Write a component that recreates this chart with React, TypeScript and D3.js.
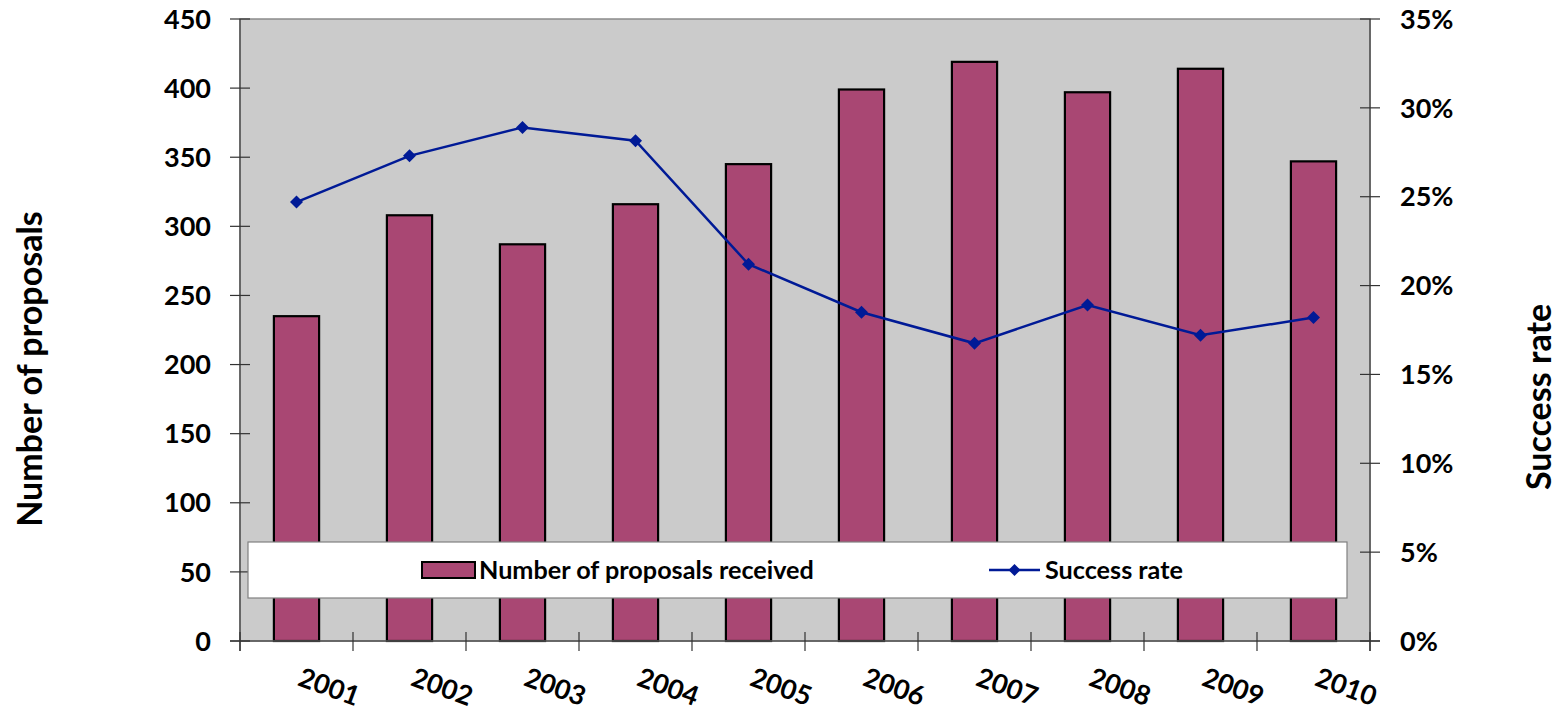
import React from "react";
import * as d3 from "d3";

const years = ["2001", "2002", "2003", "2004", "2005", "2006", "2007", "2008", "2009", "2010"];
const proposals = [235, 308, 287, 316, 345, 399, 419, 397, 414, 347];
const successRate = [24.7, 27.3, 28.9, 28.15, 21.2, 18.5, 16.75, 18.9, 17.2, 18.2];
const leftTicks = [0, 50, 100, 150, 200, 250, 300, 350, 400, 450];
const rightTicks = [0, 5, 10, 15, 20, 25, 30, 35];

const W = 1557;
const H = 714;
const plot = { left: 240, right: 1370, top: 19, bottom: 641 };
const FONT = "Lato, 'Open Sans', sans-serif";
const BAR = "#A94773";
const LINE = "#001A96";

export default function App() {
  const x = d3.scaleBand<string>().domain(years).range([plot.left, plot.right]).paddingInner(0).paddingOuter(0);
  const yL = d3.scaleLinear().domain([0, 450]).range([plot.bottom, plot.top]);
  const yR = d3.scaleLinear().domain([0, 35]).range([plot.bottom, plot.top]);
  const bw = x.bandwidth() * 0.4;
  const cx = (y: string) => (x(y) as number) + x.bandwidth() / 2;

  const linePath = d3
    .line<number>()
    .x((_, i) => cx(years[i]))
    .y((d) => yR(d))(successRate) as string;

  const diamond = (px: number, py: number, r = 6.5) =>
    `M${px},${py - r}L${px + r},${py}L${px},${py + r}L${px - r},${py}Z`;

  const boundaries = d3.range(years.length + 1).map((i) => plot.left + i * x.bandwidth());

  return (
    <svg
      width={W}
      height={H}
      style={{ position: "absolute", left: 0, top: 0, background: "#fff" }}
      fontFamily={FONT}
      fontWeight="bold"
    >
      {/* plot area */}
      <rect
        x={plot.left}
        y={plot.top}
        width={plot.right - plot.left}
        height={plot.bottom - plot.top}
        fill="#CBCBCB"
        stroke="#8C8C8C"
        strokeWidth={1.5}
      />

      {/* bars */}
      {proposals.map((v, i) => (
        <rect
          key={years[i]}
          x={cx(years[i]) - bw / 2}
          y={yL(v)}
          width={bw}
          height={plot.bottom - yL(v)}
          fill={BAR}
          stroke="#000"
          strokeWidth={2.2}
        />
      ))}

      {/* success rate line */}
      <path d={linePath} fill="none" stroke={LINE} strokeWidth={2.5} />
      {successRate.map((v, i) => (
        <path key={years[i]} d={diamond(cx(years[i]), yR(v))} fill={LINE} />
      ))}

      {/* axes */}
      <line x1={plot.left} x2={plot.left} y1={plot.top} y2={plot.bottom + 10} stroke="#555" strokeWidth={1.5} />
      <line x1={plot.right} x2={plot.right} y1={plot.top} y2={plot.bottom + 10} stroke="#555" strokeWidth={1.5} />
      <line x1={plot.left - 10} x2={plot.right + 10} y1={plot.bottom} y2={plot.bottom} stroke="#555" strokeWidth={1.5} />

      {leftTicks.map((t) => (
        <g key={"l" + t}>
          <line x1={plot.left - 10} x2={plot.left + 10} y1={yL(t)} y2={yL(t)} stroke="#333" strokeWidth={1.2} />
          <text x={211} y={yL(t)} dy="0.36em" textAnchor="end" fontSize={27} fill="#000">
            {t}
          </text>
        </g>
      ))}

      {rightTicks.map((t) => (
        <g key={"r" + t}>
          <line x1={plot.right - 10} x2={plot.right + 10} y1={yR(t)} y2={yR(t)} stroke="#333" strokeWidth={1.2} />
          <text x={1400} y={yR(t)} dy="0.36em" textAnchor="start" fontSize={27} fill="#000">
            {t}%
          </text>
        </g>
      ))}

      {boundaries.map((bx, i) => (
        <line key={"b" + i} x1={bx} x2={bx} y1={plot.bottom - 9} y2={plot.bottom + 10} stroke="#333" strokeWidth={1.2} />
      ))}

      {years.map((y) => (
        <text
          key={"x" + y}
          transform={`translate(${cx(y)},${685}) rotate(20)`}
          fontSize={27}
          fill="#000"
        >
          {y}
        </text>
      ))}

      {/* axis titles */}
      <text transform={`translate(42,369) rotate(-90)`} textAnchor="middle" fontSize={34} fill="#000">
        Number of proposals
      </text>
      <text transform={`translate(1551,397) rotate(-90)`} textAnchor="middle" fontSize={34} fill="#000">
        Success rate
      </text>

      {/* legend */}
      <rect x={248} y={542} width={1099} height={56} fill="#fff" stroke="#808080" strokeWidth={1.2} />
      <rect x={422} y={562} width={53} height={16} fill={BAR} stroke="#000" strokeWidth={2} />
      <text x={479} y={579} fontSize={25.2} fill="#000">
        Number of proposals received
      </text>
      <line x1={989} x2={1040} y1={570} y2={570} stroke={LINE} strokeWidth={2.5} />
      <path d={diamond(1014.5, 570, 6)} fill={LINE} />
      <text x={1045} y={579} fontSize={25.2} fill="#000">
        Success rate
      </text>
    </svg>
  );
}
